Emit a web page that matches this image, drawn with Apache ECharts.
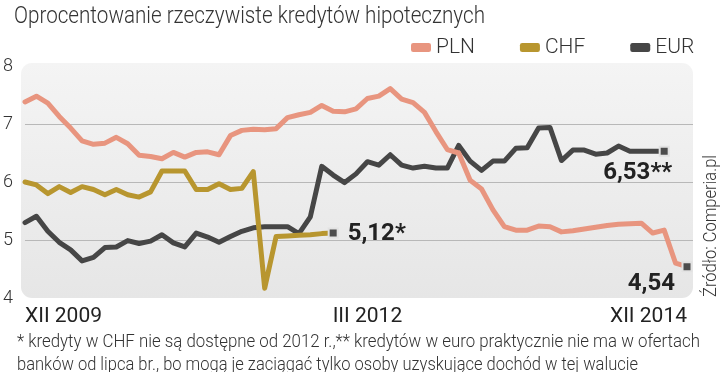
<!DOCTYPE html>
<html>
<head>
<meta charset="utf-8">
<script src="https://cdn.jsdelivr.net/npm/echarts@6/dist/echarts.min.js"></script>
<style>
html,body{margin:0;padding:0;background:#fff;}
#c{width:720px;height:372px;}
</style>
</head>
<body>
<div id="c"></div>
<script>
// ---- data ----
const titleText = 'Oprocentowanie rzeczywiste kredytów hipotecznych';
const seriesNames = ['PLN', 'CHF', 'EUR'];
const xTickLabels = ['XII 2009', 'III 2012', 'XII 2014'];
const xTickIndex = [0, 30, 58];
const yTicks = [4, 5, 6, 7, 8];
const pln = [7.38, 7.48, 7.36, 7.13, 6.93, 6.71, 6.65, 6.67, 6.77, 6.66,
             6.46, 6.44, 6.40, 6.51, 6.43, 6.51, 6.52, 6.47, 6.80, 6.89,
             6.91, 6.90, 6.92, 7.11, 7.16, 7.20, 7.32, 7.22, 7.21, 7.26,
             7.44, 7.48, 7.61, 7.43, 7.37, 7.20, 6.87, 6.56, 6.50, 6.03,
             5.88, 5.52, 5.23, 5.17, 5.17, 5.24, 5.23, 5.14, 5.16, 5.19,
             5.22, 5.25, 5.27, 5.28, 5.29, 5.12, 5.17, 4.60, 4.54];
const chf = [6.00, 5.95, 5.80, 5.92, 5.82, 5.92, 5.87, 5.78, 5.87, 5.78,
             5.74, 5.83, 6.19, 6.19, 6.19, 5.87, 5.87, 5.97, 5.87, 5.89,
             6.18, 4.17, 5.06, 5.07, 5.08, 5.09, 5.11, 5.12];
const eur = [5.30, 5.41, 5.15, 4.96, 4.83, 4.64, 4.70, 4.87, 4.88, 4.99,
             4.94, 4.98, 5.09, 4.95, 4.88, 5.12, 5.05, 4.96, 5.06, 5.15,
             5.21, 5.23, 5.23, 5.23, 5.11, 5.40, 6.27, 6.12, 5.99, 6.14,
             6.35, 6.29, 6.47, 6.29, 6.24, 6.27, 6.24, 6.24, 6.63, 6.36,
             6.20, 6.36, 6.36, 6.58, 6.59, 6.93, 6.94, 6.37, 6.55, 6.55,
             6.48, 6.50, 6.62, 6.53, 6.53, 6.53, 6.53];
const endSuffix = {PLN: '', CHF: '*', EUR: '**'};
const footLine1 = '* kredyty w CHF nie są dostępne od 2012 r.,** kredytów w euro praktycznie nie ma w ofertach';
const footLine2 = 'banków od lipca br., bo mogą je zaciągać tylko osoby uzyskujące dochód w tej walucie';
const sourceText = 'Źródło: Comperia.pl';

// ---- build ----
const N = pln.length;
const categories = Array.from({length: N}, (_, i) => String(i));
const colors = {PLN: '#e8957f', CHF: '#b8962f', EUR: '#464646'};

function fitScale(text, font, target) {
  const ctx = document.createElement('canvas').getContext('2d');
  ctx.font = font;
  return target / ctx.measureText(text).width;
}

const labelPos = {
  CHF: {position: 'right', distance: 9, align: 'left', offset: [0, 1]},
  EUR: {position: 'bottom', distance: 4, align: 'right', offset: [8, 0]},
  PLN: {position: 'bottom', distance: 4, align: 'right', offset: [-12, -4]}
};

function buildData(arr, name) {
  const last = arr.length - 1;
  const out = [];
  for (let i = 0; i < N; i++) {
    if (i > last) { out.push('-'); continue; }
    if (i === last) {
      out.push({
        value: arr[i],
        symbol: 'rect',
        symbolSize: 9,
        itemStyle: {color: '#4d4d4d', borderColor: '#e2e2e2', borderWidth: 2},
        label: Object.assign({
          show: true,
          formatter: (p) => p.value.toFixed(2).replace('.', ',') + endSuffix[name],
          fontFamily: 'Roboto', fontWeight: 'bold', fontSize: 24, color: '#222'
        }, labelPos[name])
      });
    } else {
      out.push(arr[i]);
    }
  }
  return out;
}

function mkSeries(name, arr) {
  return {
    name: name, type: 'line', xAxisIndex: 1, yAxisIndex: 1,
    color: colors[name],
    data: buildData(arr, name),
    symbol: 'none', showSymbol: true, showAllSymbol: true,
    lineStyle: {width: 5, color: colors[name], cap: 'round', join: 'round'},
    itemStyle: {color: colors[name]},
    emphasis: {disabled: true},
    z: 3
  };
}

const tickMap = {};
xTickIndex.forEach((k, j) => { tickMap[k] = xTickLabels[j]; });

const titleFont = '300 24px Roboto';
const footFont = '300 19px Roboto';
const option = {
  animation: false,
  backgroundColor: '#fff',
  legend: {
    data: seriesNames, left: 406, top: 32,
    icon: 'roundRect', itemWidth: 20, itemHeight: 9, itemGap: 45,
    textStyle: {fontFamily: 'Roboto', fontWeight: 300, fontSize: 21, color: '#333'}
  },
  grid: [
    {left: 21, right: 27, top: 66, bottom: 74},
    {left: 25, right: 33, top: 66, bottom: 74}
  ],
  xAxis: [
    {type: 'value', gridIndex: 0, show: false, min: 0, max: 1},
    {type: 'category', gridIndex: 1, data: categories, boundaryGap: false,
     axisLine: {show: false}, axisTick: {show: false}, splitLine: {show: false},
     axisLabel: {
       interval: 0, margin: 8, fontFamily: 'Roboto', fontSize: 21, color: '#222',
       formatter: (v, i) => tickMap[i] || '',
       alignMinLabel: 'left', alignMaxLabel: 'right'
     }}
  ],
  yAxis: [
    {type: 'value', gridIndex: 0, min: yTicks[0], max: yTicks[yTicks.length - 1], interval: 1,
     axisLine: {show: false}, axisTick: {show: false},
     axisLabel: {margin: 12, fontFamily: 'Roboto', fontWeight: 300, fontSize: 18, color: '#333'},
     splitLine: {show: true, lineStyle: {color: ['rgba(0,0,0,0)', '#b8b8b8', '#b8b8b8', '#b8b8b8', 'rgba(0,0,0,0)'], width: 1}}},
    {type: 'value', gridIndex: 1, min: yTicks[0], max: yTicks[yTicks.length - 1], show: false, splitLine: {show: false}}
  ],
  graphic: [
    {type: 'rect', z: -10, silent: true,
     shape: {x: 21, y: 63, width: 672, height: 235, r: 11},
     style: {fill: {type: 'linear', x: 0, y: 0, x2: 0, y2: 1,
       colorStops: [{offset: 0, color: '#f4f4f4'}, {offset: 1, color: '#e6e6e6'}]}}},
    {type: 'text', x: 14, y: 17, scaleX: fitScale(titleText, titleFont, 471), silent: true,
     style: {text: titleText, font: titleFont, fill: '#333', verticalAlign: 'middle', align: 'left'}},
    {type: 'text', x: 17, y: 342, scaleX: fitScale(footLine1, footFont, 683), silent: true,
     style: {text: footLine1, font: footFont, fill: '#333', verticalAlign: 'middle', align: 'left'}},
    {type: 'text', x: 17, y: 365, scaleX: fitScale(footLine2, footFont, 621), silent: true,
     style: {text: footLine2, font: footFont, fill: '#333', verticalAlign: 'middle', align: 'left'}},
    {type: 'text', x: 711, y: 297, rotation: Math.PI / 2, silent: true,
     scaleX: fitScale(sourceText, footFont, 142),
     style: {text: sourceText, font: footFont, fill: '#333', verticalAlign: 'middle', align: 'left'}}
  ],
  series: [mkSeries('EUR', eur), mkSeries('CHF', chf), mkSeries('PLN', pln)]
};
const chart = echarts.init(document.getElementById('c'), null, {renderer: 'canvas'});
chart.setOption(option);
</script>
</body>
</html>
